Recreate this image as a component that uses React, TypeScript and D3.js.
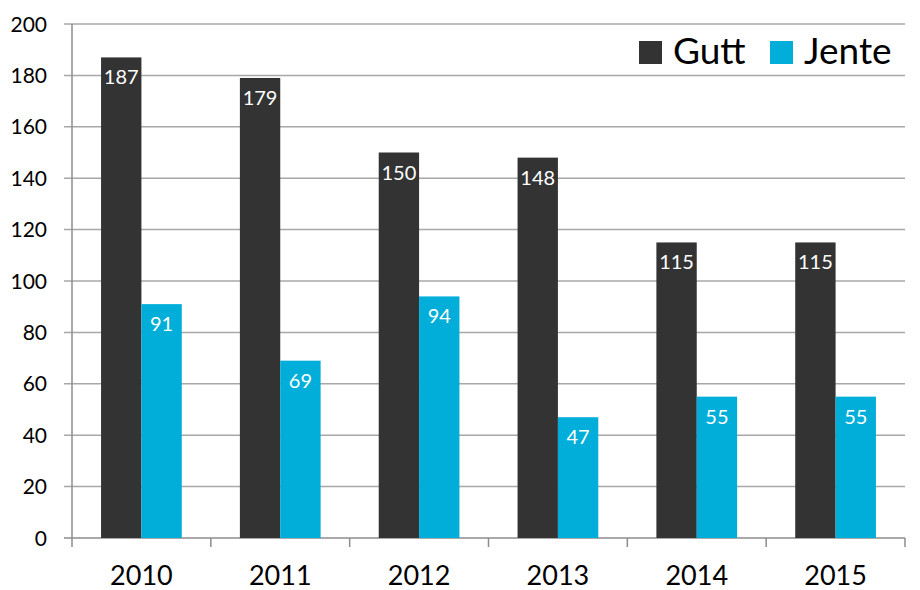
import React, { useEffect, useRef } from "react";
import * as d3 from "d3";

const years = ["2010", "2011", "2012", "2013", "2014", "2015"];
const gutt = [187, 179, 150, 148, 115, 115];
const jente = [91, 69, 94, 47, 55, 55];
const yTicks = [0, 20, 40, 60, 80, 100, 120, 140, 160, 180, 200];

const series = [
  { name: "Gutt", values: gutt, color: "#333333" },
  { name: "Jente", values: jente, color: "#00AED9" },
];

const App = () => {
  const ref = useRef<SVGSVGElement>(null);

  useEffect(() => {
    const width = 920;
    const height = 590;
    const margin = { top: 24, right: 15, bottom: 52, left: 72 };
    const font = "Lato, 'Open Sans', sans-serif";

    const svg = d3.select(ref.current).attr("width", width).attr("height", height);
    svg.selectAll("*").remove();

    const x = d3
      .scaleBand()
      .domain(years)
      .range([margin.left, width - margin.right]);

    const y = d3
      .scaleLinear()
      .domain([0, 200])
      .range([height - margin.bottom, margin.top]);

    // bar width ~ 41px per series inside a 139px category
    const inner = d3
      .scaleBand()
      .domain(series.map((s) => s.name))
      .range([0, x.bandwidth()])
      .paddingInner(0)
      .paddingOuter(0.72);

    // grid lines
    svg
      .append("g")
      .selectAll("line")
      .data(yTicks)
      .enter()
      .append("line")
      .attr("x1", margin.left - 8)
      .attr("x2", width - margin.right)
      .attr("y1", (d) => y(d))
      .attr("y2", (d) => y(d))
      .attr("stroke", (d) => (d === 0 ? "#8c8c8c" : "#a8a8a8"))
      .attr("stroke-width", 1.5);

    // y labels
    svg
      .append("g")
      .selectAll("text")
      .data(yTicks)
      .enter()
      .append("text")
      .attr("x", 47)
      .attr("y", (d) => y(d))
      .attr("dy", "0.36em")
      .attr("text-anchor", "end")
      .attr("font-family", font)
      .attr("font-size", 21)
      .attr("fill", "#000")
      .text((d) => d);

    // bars
    series.forEach((s) => {
      const g = svg.append("g");
      g.selectAll("rect")
        .data(s.values)
        .enter()
        .append("rect")
        .attr("x", (d, i) => x(years[i])! + inner(s.name)!)
        .attr("y", (d) => y(d))
        .attr("width", inner.bandwidth())
        .attr("height", (d) => y(0) - y(d))
        .attr("fill", s.color);

      g.selectAll("text")
        .data(s.values)
        .enter()
        .append("text")
        .attr("x", (d, i) => x(years[i])! + inner(s.name)! + inner.bandwidth() / 2)
        .attr("y", (d) => y(d) + 27)
        .attr("text-anchor", "middle")
        .attr("font-family", font)
        .attr("font-size", 20)
        .attr("fill", "#fff")
        .text((d) => d);
    });

    // y axis line
    svg
      .append("line")
      .attr("x1", margin.left)
      .attr("x2", margin.left)
      .attr("y1", y(200))
      .attr("y2", y(0) + 9)
      .attr("stroke", "#8c8c8c")
      .attr("stroke-width", 1.5);

    // category ticks
    const bounds = years.map((yr) => x(yr)! + x.bandwidth());
    svg
      .append("g")
      .selectAll("line")
      .data(bounds)
      .enter()
      .append("line")
      .attr("x1", (d) => d)
      .attr("x2", (d) => d)
      .attr("y1", y(0))
      .attr("y2", y(0) + 9)
      .attr("stroke", "#8c8c8c")
      .attr("stroke-width", 1.5);

    // x labels
    svg
      .append("g")
      .selectAll("text")
      .data(years)
      .enter()
      .append("text")
      .attr("x", (d) => x(d)! + x.bandwidth() / 2)
      .attr("y", 585)
      .attr("text-anchor", "middle")
      .attr("font-family", font)
      .attr("font-size", 27)
      .attr("fill", "#000")
      .text((d) => d);

    // legend
    const legendPos = [639, 770];
    const legend = svg
      .append("g")
      .selectAll("g")
      .data(series)
      .enter()
      .append("g")
      .attr("transform", (d, i) => `translate(${legendPos[i]}, 41)`);

    legend
      .append("rect")
      .attr("width", 23)
      .attr("height", 23)
      .attr("fill", (d) => d.color);

    legend
      .append("text")
      .attr("x", 34)
      .attr("y", 23)
      .attr("font-family", font)
      .attr("font-size", 37)
      .attr("fill", "#000")
      .text((d) => d.name);

    return () => {
      svg.selectAll("*").remove();
    };
  }, []);

  return (
    <div style={{ position: "absolute", left: 0, top: 0 }}>
      <svg ref={ref} style={{ display: "block" }}></svg>
    </div>
  );
};

export default App;
